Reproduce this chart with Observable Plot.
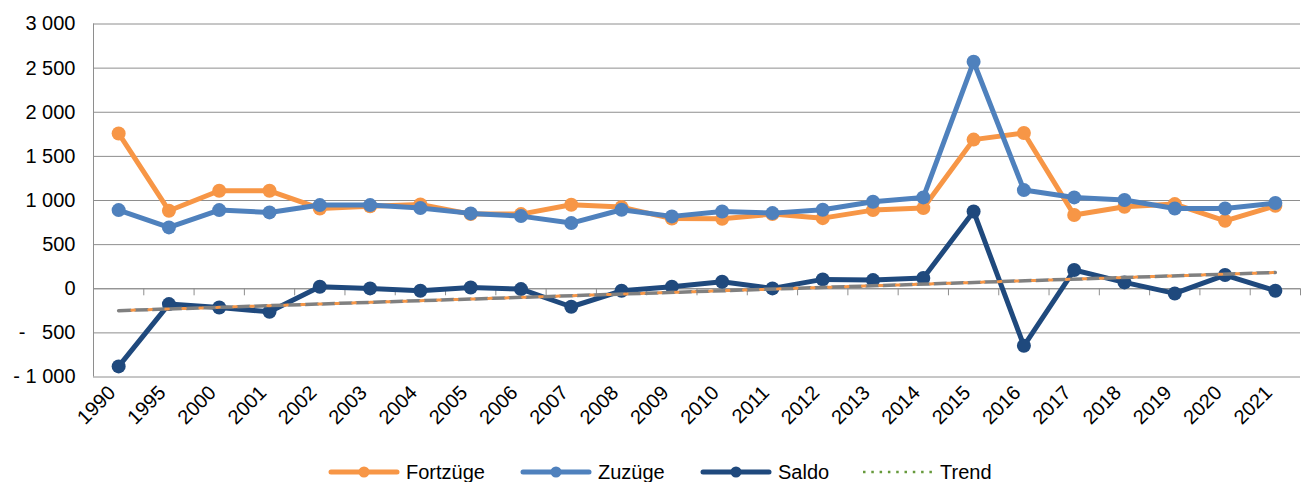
<!DOCTYPE html>
<html><head><meta charset="utf-8">
<script src="https://cdn.jsdelivr.net/npm/d3@7"></script>
<script src="https://cdn.jsdelivr.net/npm/@observablehq/plot@0.6"></script>
<style>
body{margin:0;background:#fff;font-family:"Liberation Sans",Arial,sans-serif;}
#chart{position:relative;width:1301px;height:482px;overflow:hidden}
#chart svg{display:block}
.legend{position:absolute;top:451px;left:0;width:1301px;height:42px;}
.item{position:absolute;top:0;height:42px;display:flex;align-items:center;font-size:20px;color:#000;white-space:nowrap}
.item svg{margin-right:6px}
</style></head><body><div id="chart"></div>
<script>
const years = ["1990","1995","2000","2001","2002","2003","2004","2005","2006","2007","2008","2009","2010","2011","2012","2013","2014","2015","2016","2017","2018","2019","2020","2021"];
const fortzuege = [1760, 884, 1110, 1110, 910, 935, 955, 846, 846, 952, 925, 795, 792, 846, 800, 891, 914, 1690, 1765, 835, 929, 959, 770, 940];
const zuzuege = [891, 695, 891, 865, 948, 948, 914, 854, 823, 744, 895, 820, 876, 857, 895, 986, 1035, 2572, 1118, 1035, 1005, 910, 910, 971];
const saldo = [-880, -174, -212, -261, 23, 4, -23, 15, -4, -204, -23, 23, 79, 4, 106, 98, 121, 876, -646, 212, 72, -53, 155, -23];
const trendYears = ["1990", "2021"];
const trendValues = [-248, 184];
const yTicks = [-1000, -500, 0, 500, 1000, 1500, 2000, 2500, 3000];
const yTickLabels = ["-\u00a01\u00a0000", "-\u00a0\u2007500", "0", "500", "1\u00a0000", "1\u00a0500", "2\u00a0000", "2\u00a0500", "3\u00a0000"];
const seriesNames = ["Fortzüge", "Zuzüge", "Saldo", "Trend"];
const colors = {Fortzüge: "#F79646", Zuzüge: "#4F81BD", Saldo: "#1F497D", Trend: "#679A3C"};

const W = 1301, H = 450, mL = 93, mR = 1, mT = 23.5, mB = 73.5;
const step = (W - mL - mR) / years.length;
const rows = years.map((year, i) => ({year, fort: fortzuege[i], zu: zuzuege[i], saldo: saldo[i]}));
const trendRows = trendYears.map((year, i) => ({year, value: trendValues[i]}));
const yFmt = v => yTickLabels[yTicks.indexOf(v)];
const grid = "#8e8e8e";

function series(key, color) {
  return [
    Plot.line(rows, {x: "year", y: key, stroke: color, strokeWidth: 5, strokeLinejoin: "round"}),
    Plot.dot(rows, {x: "year", y: key, fill: color, r: 7})
  ];
}

const plot = Plot.plot({
  width: W, height: H, marginLeft: mL, marginRight: mR, marginTop: mT, marginBottom: mB,
  style: {fontFamily: "'Liberation Sans', Arial, sans-serif", fontSize: "20px", color: "#000", background: "#fff", overflow: "visible"},
  x: {type: "point", domain: years, padding: 0.5, round: false, axis: null},
  y: {domain: [-1000, 3000], axis: null},
  marks: [
    Plot.gridY(yTicks, {stroke: grid, strokeOpacity: 1, strokeWidth: 1}),
    Plot.axisY(yTicks, {tickSize: 0, tickPadding: 18, tickFormat: yFmt, fontSize: 20, fill: "#000"}),
    Plot.ruleX([years[0]], {dx: -step / 2, y1: -1000, y2: 3000, stroke: grid}),
    Plot.ruleY([0], {stroke: grid}),
    Plot.ruleX(years, {dx: step / 2, y1: 0, y2: -80, stroke: grid}),
    Plot.text(years, {x: d => d, frameAnchor: "bottom", rotate: -45, textAnchor: "end", dx: -2, dy: 17, fontSize: 20, fill: "#000"}),
    ...series("fort", colors["Fortzüge"]),
    ...series("zu", colors["Zuzüge"]),
    ...series("saldo", colors["Saldo"]),
    Plot.line(trendRows, {x: "year", y: "value", stroke: "#808080", strokeWidth: 3.5, strokeDasharray: "12,5"}),
    Plot.line(trendRows, {x: "year", y: "value", stroke: "#F79646", strokeWidth: 3, strokeDasharray: "2.5,14.5", strokeDashoffset: -13.2})
  ]
});
const chart = document.getElementById("chart");
chart.appendChild(plot);

const legend = document.createElement("div");
legend.className = "legend";
const lefts = [328, 520, 700, 862];
seriesNames.forEach((name, i) => {
  const item = document.createElement("div");
  item.className = "item";
  item.style.left = lefts[i] + "px";
  const c = colors[name];
  const sw = name === "Trend"
    ? `<svg width="72" height="14"><line x1="1" y1="7" x2="72" y2="7" stroke="${c}" stroke-width="2.5" stroke-dasharray="2.5,5.8"/></svg>`
    : `<svg width="72" height="14"><line x1="3" y1="7" x2="69" y2="7" stroke="${c}" stroke-width="5" stroke-linecap="round"/><circle cx="36" cy="7" r="5.5" fill="${c}"/></svg>`;
  item.innerHTML = sw + `<span>${name}</span>`;
  legend.appendChild(item);
});
chart.appendChild(legend);
</script>
</body></html>
